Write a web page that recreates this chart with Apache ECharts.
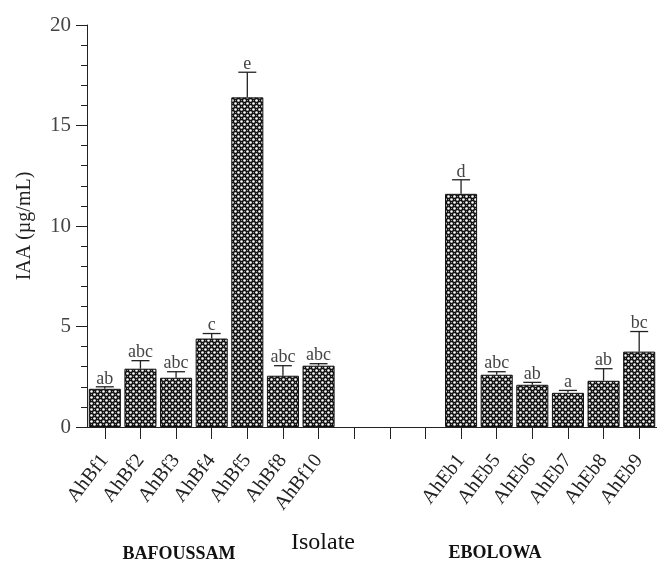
<!DOCTYPE html>
<html>
<head>
<meta charset="utf-8">
<script src="https://cdn.jsdelivr.net/npm/echarts@6/dist/echarts.min.js"></script>
<style>
html,body{margin:0;padding:0;background:#fff;}
#chart{width:657px;height:561px;}
</style>
</head>
<body>
<div id="chart"></div>
<script>
const categories = ['AhBf1','AhBf2','AhBf3','AhBf4','AhBf5','AhBf8','AhBf10','','','','AhEb1','AhEb5','AhEb6','AhEb7','AhEb8','AhEb9'];
const iaaValues = [1.9, 2.9, 2.45, 4.4, 16.4, 2.55, 3.05, null, null, null, 11.6, 2.6, 2.1, 1.7, 2.3, 3.75];
const iaaErrors = [0.1, 0.4, 0.3, 0.25, 1.25, 0.5, 0.1, null, null, null, 0.7, 0.15, 0.12, 0.12, 0.6, 1.0];
const letters = ['ab','abc','abc','c','e','abc','abc','','','','d','abc','ab','a','ab','bc'];
const yTicks = [0, 5, 10, 15, 20];
const groupNames = ['BAFOUSSAM', 'EBOLOWA'];
const axisTitleX = 'Isolate';
const axisTitleY = 'IAA (µg/mL)';

// pattern tile
const tile = document.createElement('canvas');
tile.width = 6; tile.height = 6;
const tc = tile.getContext('2d');
tc.fillStyle = '#111';
tc.fillRect(0,0,6,6);
tc.fillStyle = '#fff';
tc.beginPath(); tc.arc(1.5,1.5,1.3,0,Math.PI*2); tc.fill();
tc.beginPath(); tc.arc(4.5,4.5,1.3,0,Math.PI*2); tc.fill();
tc.fillStyle = '#888';
tc.fillRect(4,1,1,1); tc.fillRect(1,4,1,1);

const chart = echarts.init(document.getElementById('chart'), null, {renderer:'canvas'});
const serif = '"Liberation Serif","DejaVu Serif",serif';

const errData = iaaValues.map((v,i)=> v==null ? [i, null, null, ''] : [i, v, iaaErrors[i], letters[i]]);

chart.setOption({
  animation:false,
  grid:{left:87, top:25, width:570, height:402},
  xAxis:{
    type:'category',
    data:categories,
    boundaryGap:true,
    axisLine:{lineStyle:{color:'#222', width:1}},
    axisTick:{show:true, alignWithLabel:true, length:12, interval:0, lineStyle:{color:'#222'}},
    axisLabel:{interval:0, rotate:52, margin:30, fontFamily:serif, fontSize:20, color:'#222'},
    splitLine:{show:false}
  },
  yAxis:{
    type:'value',
    min:yTicks[0], max:yTicks[yTicks.length-1], interval:5,
    axisLine:{show:true, lineStyle:{color:'#222'}},
    axisTick:{show:true, length:11, lineStyle:{color:'#222'}},
    minorTick:{show:true, splitNumber:5, length:6, lineStyle:{color:'#222'}},
    axisLabel:{margin:16, fontFamily:serif, fontSize:21, color:'#444'},
    splitLine:{show:false},
    name:axisTitleY, nameLocation:'middle', nameGap:52, nameRotate:90,
    nameTextStyle:{fontFamily:serif, fontSize:20, color:'#222'}
  },
  series:[
    {
      type:'bar',
      data:iaaValues,
      barCategoryGap:'10%',
      itemStyle:{color:{image:tile, repeat:'repeat'}, borderColor:'#111', borderWidth:1}
    },
    {
      type:'custom',
      data:errData,
      encode:{x:0, y:1},
      z:5,
      renderItem:function(params, api){
        const v = api.value(1);
        if (v == null || isNaN(v)) return;
        const e = api.value(2);
        const i = api.value(0);
        const p0 = api.coord([i, v]);
        const p1 = api.coord([i, v+e]);
        const hw = 9;
        return {
          type:'group',
          children:[
            {type:'line', shape:{x1:p0[0], y1:p0[1], x2:p1[0], y2:p1[1]}, style:{stroke:'#222', lineWidth:1.3}},
            {type:'line', shape:{x1:p1[0]-hw, y1:p1[1], x2:p1[0]+hw, y2:p1[1]}, style:{stroke:'#222', lineWidth:1.3}},
            {type:'text', style:{text:letters[params.dataIndex], x:p1[0], y:p1[1]+1, align:'center', verticalAlign:'bottom', font:'18px ' + serif, fill:'#444'}}
          ]
        };
      }
    }
  ],
  graphic:[
    {type:'text', style:{text:axisTitleX, x:323, y:543, align:'center', verticalAlign:'middle', font:'24px ' + serif, fill:'#111'}},
    {type:'text', style:{text:groupNames[0], x:179, y:554, align:'center', verticalAlign:'middle', font:'bold 18px ' + serif, fill:'#111'}},
    {type:'text', style:{text:groupNames[1], x:495, y:553, align:'center', verticalAlign:'middle', font:'bold 18px ' + serif, fill:'#111'}}
  ]
});
</script>
</body>
</html>
